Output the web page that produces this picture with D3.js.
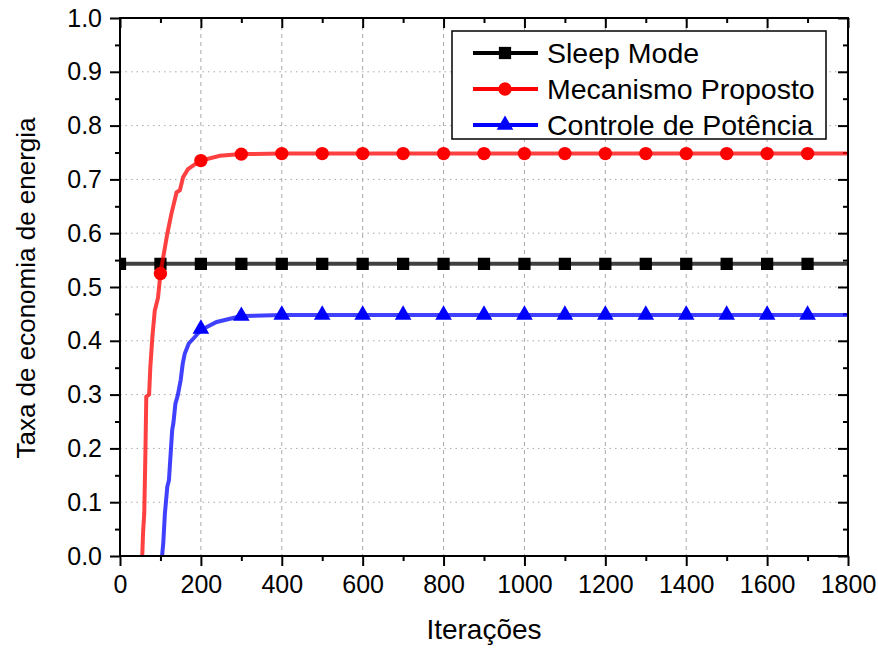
<!DOCTYPE html>
<html>
<head>
<meta charset="utf-8">
<script src="https://cdn.jsdelivr.net/npm/d3@7"></script>
<style>
  body { margin: 0; background: #fff; }
  text { font-family: "Liberation Sans", Arial, sans-serif; fill: #000; }
</style>
</head>
<body>
<svg id="chart" width="878" height="648"></svg>
<script>
// data
const seriesNames = ["Sleep Mode", "Mecanismo Proposto", "Controle de Potência"];

const sleepIter = [0, 1800];
const sleepVal = [0.543, 0.543];
const sleepMarkIter = [0,100,200,300,400,500,600,700,800,900,1000,1100,1200,1300,1400,1500,1600,1700];
const sleepMarkVal = [0.543,0.543,0.543,0.543,0.543,0.543,0.543,0.543,0.543,0.543,0.543,0.543,0.543,0.543,0.543,0.543,0.543,0.543];

const propIter = [55,57,60,62,63,65,72,75,80,86,94,100,104,117,127,140,148,156,168,185,200,247,300,400,1800];
const propVal = [0,0.043,0.08,0.16,0.2,0.296,0.30,0.351,0.407,0.456,0.48,0.525,0.543,0.599,0.636,0.676,0.68,0.704,0.719,0.728,0.735,0.744,0.747,0.748,0.748];
const propMarkIter = [100,200,300,400,500,600,700,800,900,1000,1100,1200,1300,1400,1500,1600,1700];
const propMarkVal = [0.525,0.735,0.747,0.748,0.748,0.748,0.748,0.748,0.748,0.748,0.748,0.748,0.748,0.748,0.748,0.748,0.748];

const potIter = [104,107,111,117,121,129,132,137,143,150,155,160,170,185,200,239,300,400,1800];
const potVal = [0,0.024,0.079,0.129,0.141,0.234,0.247,0.283,0.299,0.327,0.357,0.376,0.395,0.407,0.42,0.435,0.446,0.448,0.448];
const potMarkIter = [200,300,400,500,600,700,800,900,1000,1100,1200,1300,1400,1500,1600,1700];
const potMarkVal = [0.422,0.446,0.448,0.448,0.448,0.448,0.448,0.448,0.448,0.448,0.448,0.448,0.448,0.448,0.448,0.448];

const xTicks = [0,200,400,600,800,1000,1200,1400,1600,1800];
const xMinor = [100,300,500,700,900,1100,1300,1500,1700];
const yTicks = [0,0.1,0.2,0.3,0.4,0.5,0.6,0.7,0.8,0.9,1.0];
const yMinor = [0.05,0.15,0.25,0.35,0.45,0.55,0.65,0.75,0.85,0.95];

const plotLeft = 120, plotRight = 848, plotTop = 18, plotBottom = 556;

const svg = d3.select('#chart');

const x = d3.scaleLinear().domain([0, 1800]).range([plotLeft, plotRight]);
const y = d3.scaleLinear().domain([0, 1]).range([plotBottom, plotTop]);

// grid
svg.append('g').selectAll('line')
    .data(xTicks.slice(1, -1))
    .enter().append('line')
    .attr('x1', d => x(d)).attr('x2', d => x(d))
    .attr('y1', plotTop).attr('y2', plotBottom)
    .attr('stroke', '#a8a8a8').attr('stroke-width', 1)
    .attr('stroke-dasharray', '4,4');

svg.append('g').selectAll('line')
    .data(yTicks.slice(1, -1))
    .enter().append('line')
    .attr('x1', plotLeft).attr('x2', plotRight)
    .attr('y1', d => y(d)).attr('y2', d => y(d))
    .attr('stroke', '#a8a8a8').attr('stroke-width', 1)
    .attr('stroke-dasharray', '1.5,4');

// axes
function styleAxis(g) {
    g.select('.domain').remove();
    g.selectAll('.tick line').attr('stroke', '#000').attr('stroke-width', 2);
    g.selectAll('.tick text').style('font-size', '25px').attr('fill', '#000');
}

svg.append('g').attr('transform', `translate(0,${plotBottom})`)
    .call(d3.axisBottom(x).tickValues(xTicks).tickSize(10).tickPadding(9).tickFormat(d3.format('d')))
    .call(styleAxis);
svg.append('g').attr('transform', `translate(0,${plotBottom})`)
    .call(d3.axisBottom(x).tickValues(xMinor).tickSize(5).tickFormat(''))
    .call(styleAxis);
svg.append('g').attr('transform', `translate(${plotLeft},0)`)
    .call(d3.axisLeft(y).tickValues(yTicks).tickSize(10).tickPadding(8).tickFormat(d3.format('.1f')))
    .call(styleAxis);
svg.append('g').attr('transform', `translate(${plotLeft},0)`)
    .call(d3.axisLeft(y).tickValues(yMinor).tickSize(5).tickFormat(''))
    .call(styleAxis);
// top and right, ticks inward
svg.append('g').attr('transform', `translate(0,${plotTop})`)
    .call(d3.axisBottom(x).tickValues(xTicks).tickSize(10).tickFormat(''))
    .call(styleAxis);
svg.append('g').attr('transform', `translate(0,${plotTop})`)
    .call(d3.axisBottom(x).tickValues(xMinor).tickSize(5).tickFormat(''))
    .call(styleAxis);
svg.append('g').attr('transform', `translate(${plotRight},0)`)
    .call(d3.axisLeft(y).tickValues(yTicks).tickSize(10).tickFormat(''))
    .call(styleAxis);
svg.append('g').attr('transform', `translate(${plotRight},0)`)
    .call(d3.axisLeft(y).tickValues(yMinor).tickSize(5).tickFormat(''))
    .call(styleAxis);

svg.append('clipPath').attr('id', 'plot')
    .append('rect').attr('x', plotLeft).attr('y', plotTop)
    .attr('width', plotRight - plotLeft).attr('height', plotBottom - plotTop);

const line = d3.line().x(d => x(d[0])).y(d => y(d[1]));
const plot = svg.append('g').attr('clip-path', 'url(#plot)');

const series = [
    { iter: sleepIter, val: sleepVal, mi: sleepMarkIter, mv: sleepMarkVal, color: '#000000', symbol: d3.symbolSquare, size: 150 },
    { iter: propIter, val: propVal, mi: propMarkIter, mv: propMarkVal, color: '#ff0000', symbol: d3.symbolCircle, size: 140 },
    { iter: potIter, val: potVal, mi: potMarkIter, mv: potMarkVal, color: '#0000ff', symbol: d3.symbolTriangle, size: 120 }
];

series.forEach(s => {
    plot.append('path')
        .attr('d', line(d3.zip(s.iter, s.val)))
        .attr('fill', 'none')
        .attr('stroke', s.color)
        .attr('stroke-opacity', 0.75)
        .attr('stroke-width', 4);
    plot.append('g').selectAll('path')
        .data(d3.zip(s.mi, s.mv))
        .enter().append('path')
        .attr('transform', d => `translate(${x(d[0])},${y(d[1])})`)
        .attr('d', d3.symbol().type(s.symbol).size(s.size))
        .attr('fill', s.color);
});

// frame
svg.append('rect')
    .attr('x', plotLeft).attr('y', plotTop)
    .attr('width', plotRight - plotLeft).attr('height', plotBottom - plotTop)
    .attr('fill', 'none').attr('stroke', '#000').attr('stroke-width', 2);

// axis titles
svg.append('text')
    .attr('x', 484).attr('y', 639)
    .attr('text-anchor', 'middle')
    .style('font-size', '28px')
    .text('Iterações');
svg.append('text')
    .attr('transform', 'translate(35,288) rotate(-90)')
    .attr('text-anchor', 'middle')
    .style('font-size', '26px')
    .text('Taxa de economia de energia');

// legend
const legend = svg.append('g');
legend.append('rect')
    .attr('x', 452).attr('y', 31).attr('width', 374).attr('height', 108)
    .attr('fill', '#fff').attr('stroke', '#000').attr('stroke-width', 1.5);
const rowY = [53, 89, 125];
series.forEach((s, i) => {
    legend.append('line')
        .attr('x1', 473).attr('x2', 538)
        .attr('y1', rowY[i]).attr('y2', rowY[i])
        .attr('stroke', s.color).attr('stroke-width', 4);
    legend.append('path')
        .attr('transform', `translate(505,${rowY[i]})`)
        .attr('d', d3.symbol().type(s.symbol).size(s.size))
        .attr('fill', s.color);
    legend.append('text')
        .attr('x', 547).attr('y', rowY[i] + 10)
        .style('font-size', '28.5px')
        .text(seriesNames[i]);
});
</script>
</body>
</html>
